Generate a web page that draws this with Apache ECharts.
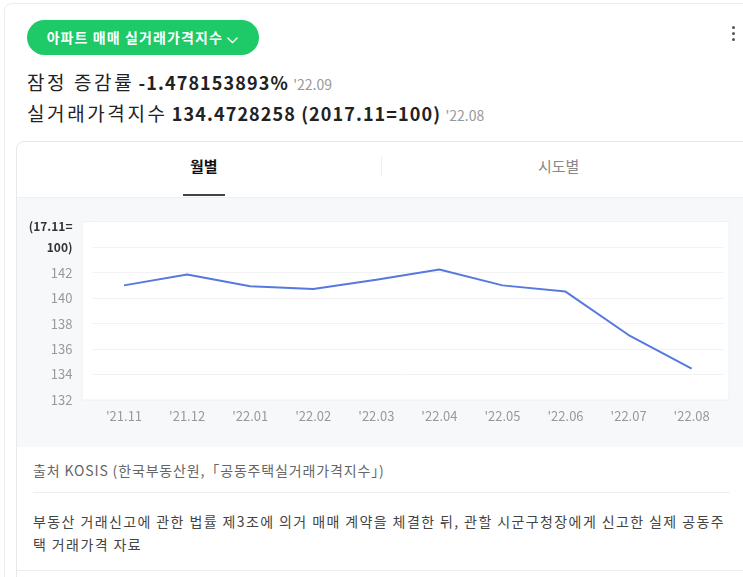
<!DOCTYPE html>
<html><head><meta charset="utf-8">
<script src="https://cdn.jsdelivr.net/npm/echarts@6/dist/echarts.min.js"></script>
<style>
html,body{margin:0;padding:0;width:743px;height:577px;overflow:hidden;background:#fff;font-family:"Noto Sans CJK KR","Noto Sans",sans-serif;}
#outer{position:absolute;left:4px;top:3px;width:760px;height:600px;border:1px solid #ececec;border-radius:8px;}
#pill{position:absolute;left:27px;top:20px;width:232px;height:35px;border-radius:18px;background:#1ec968;color:#fff;font-size:14px;font-weight:bold;line-height:35px;text-align:center;letter-spacing:1.1px;}
#dots{position:absolute;left:732px;top:26px;width:4px;}
#dots i{display:block;width:3px;height:3px;border-radius:2px;background:#555;margin-bottom:3px;}
.l1{position:absolute;left:27px;top:68px;font-size:19px;color:#222;white-space:nowrap;}
.l2{position:absolute;left:27px;top:99px;font-size:19px;color:#222;white-space:nowrap;}
.k{letter-spacing:2.6px;}
.b{font-weight:bold;font-size:18px;letter-spacing:1.1px;}
.d{font-size:14px;color:#999;}
#card{position:absolute;left:16px;top:141px;width:760px;height:460px;border:1px solid #e8e8e8;border-radius:8px;overflow:hidden;}
#tab1{position:absolute;left:190px;top:155px;font-size:15px;font-weight:bold;color:#111;}
#tab2{position:absolute;left:538px;top:155px;font-size:15px;color:#888;}
#tabdiv{position:absolute;left:381px;top:157px;width:1px;height:19px;background:#eee;}
#uline{position:absolute;left:183px;top:194px;width:42px;height:2px;background:#444;}
#gray{position:absolute;left:17px;top:197px;width:740px;height:249px;background:#f7f8fa;border-top:1px solid #f0f0f0;}
#chart{position:absolute;left:17px;top:197px;width:726px;height:249px;}
#src{position:absolute;left:33px;top:460px;font-size:14px;color:#666;white-space:nowrap;letter-spacing:0.85px;}
#sep{position:absolute;left:33px;top:492px;width:697px;height:1px;background:#eee;}
#desc{position:absolute;left:33px;top:510px;width:700px;font-size:14px;color:#444;line-height:23px;letter-spacing:1.4px;}
#bot{position:absolute;left:17px;top:570px;width:740px;height:1px;background:#eee;}
</style></head>
<body>
<div id="outer"></div>
<div id="pill">아파트 매매 실거래가격지수 ⌵</div>
<div id="dots"><i></i><i></i><i></i></div>
<div class="l1"><span class="k">잠정 증감률</span> <span class="b">-1.478153893%</span> <span class="d">'22.09</span></div>
<div class="l2"><span class="k">실거래가격지수</span> <span class="b">134.4728258 (2017.11=100)</span> <span class="d">'22.08</span></div>
<div id="card"></div>
<div id="tab1">월별</div>
<div id="tabdiv"></div>
<div id="tab2">시도별</div>
<div id="uline"></div>
<div id="gray"></div>
<div id="chart"></div>
<div id="src">출처 KOSIS (한국부동산원,「공동주택실거래가격지수」)</div>
<div id="sep"></div>
<div id="desc">부동산 거래신고에 관한 법률 제3조에 의거 매매 계약을 체결한 뒤, 관할 시군구청장에게 신고한 실제 공동주택 거래가격 자료</div>
<div id="bot"></div>
<script>
var categories = ["'21.11","'21.12","'22.01","'22.02","'22.03","'22.04","'22.05","'22.06","'22.07","'22.08"];
var indexValues = [141.0, 141.85, 140.93, 140.72, 141.45, 142.24, 141.0, 140.51, 137.1, 134.47];
var yTicks = [132, 134, 136, 138, 140, 142, 144, 146];
var yUnitTop = "(17.11=";
var yUnitBottom = "100)";

var chart = echarts.init(document.getElementById('chart'));
chart.setOption({
  animation:false,
  backgroundColor:'transparent',
  textStyle:{fontFamily:'"Noto Sans CJK KR","Noto Sans",sans-serif'},
  graphic:[{type:'rect',z:-10,shape:{x:65,y:24.5,width:647,height:178.5},style:{fill:'#fff',stroke:'#eef0f3',lineWidth:1}}],
  grid:{left:75.5,right:19.8,top:24.7,bottom:46},
  xAxis:{type:'category',data:categories,boundaryGap:true,
    axisLine:{show:false},axisTick:{show:false},
    axisLabel:{color:'#999',fontSize:13,margin:10}},
  yAxis:{type:'value',min:yTicks[0],max:yTicks[yTicks.length-1],interval:2,
    axisLine:{show:false},axisTick:{show:false},
    splitLine:{lineStyle:{color:'#f2f2f2',width:1}},
    axisLabel:{color:'#999',fontSize:13,margin:20,
      formatter:function(v){
        if(v===yTicks[yTicks.length-1]) return '{u|'+yUnitTop+'}';
        if(v===yTicks[yTicks.length-2]) return '{u2|'+yUnitBottom+'}';
        return v;
      },
      rich:{u:{fontWeight:'bold',color:'#333',fontSize:12,padding:[9,0,0,0]},
            u2:{fontWeight:'bold',color:'#333',fontSize:12}}}},
  series:[{type:'line',data:indexValues,symbol:'none',
    lineStyle:{color:'#5679e0',width:2}}]
});
</script>
</body></html>
